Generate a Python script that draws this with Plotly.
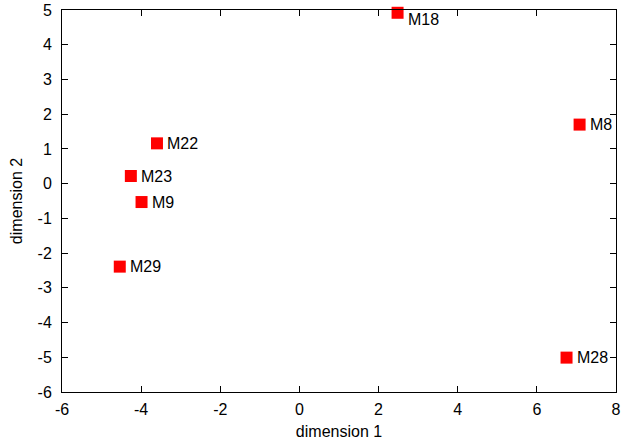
import plotly.graph_objects as go

labels = ["M18", "M8", "M22", "M23", "M9", "M29", "M28"]
dim1 = [2.48, 7.08, -3.60, -4.26, -3.99, -4.54, 6.75]
dim2 = [4.92, 1.70, 1.16, 0.22, -0.53, -2.39, -5.01]

x_ticks = [-6, -4, -2, 0, 2, 4, 6, 8]
x_ticktext = ["-6", "-4", "-2", "0", "2", "4", "6", "8"]
y_ticks = [-6, -5, -4, -3, -2, -1, 0, 1, 2, 3, 4, 5]
y_ticktext = ["-6", "-5", "-4", "-3", "-2", "-1", "0", "1", "2", "3", "4", "5"]

FONT = "Liberation Sans, Arial, sans-serif"
FS = 16

fig = go.Figure()
fig.add_trace(go.Scatter(
    x=dim1, y=dim2, mode="markers",
    marker=dict(symbol="square", size=12, color="#ff0000", line=dict(width=0)),
    cliponaxis=False, showlegend=False, hoverinfo="skip",
))

# point labels (the label at the top border sits a little lower, as in the reference)
label_yshift = {"M18": -7}
for lab, xv, yv in zip(labels, dim1, dim2):
    fig.add_annotation(x=xv, y=yv, text=lab, showarrow=False,
                       xanchor="left", yanchor="middle", xshift=8,
                       yshift=label_yshift.get(lab, 0),
                       font=dict(family=FONT, size=FS, color="#000000"))

axis_common = dict(
    showgrid=False, zeroline=False, showline=True, linecolor="#000000", linewidth=1,
    mirror="allticks", ticks="inside", ticklen=6, tickcolor="#000000", tickwidth=1,
    tickfont=dict(family=FONT, size=FS, color="#000000"),
)
fig.update_xaxes(range=[-6, 8], tickvals=x_ticks, ticktext=x_ticktext,
                 ticklabelstandoff=3, automargin="bottom",
                 title=dict(text="dimension 1", standoff=8,
                            font=dict(family=FONT, size=FS, color="#000000")),
                 **axis_common)
fig.update_yaxes(range=[-6, 5], tickvals=y_ticks, ticktext=y_ticktext,
                 ticklabelstandoff=6, automargin="left",
                 title=dict(text="dimension 2", standoff=10,
                            font=dict(family=FONT, size=FS, color="#000000")),
                 **axis_common)
fig.update_layout(
    width=623, height=445,
    margin=dict(l=62, r=7, t=10, b=53),
    plot_bgcolor="#ffffff", paper_bgcolor="#ffffff",
)
fig.write_html("out.html", config={"displayModeBar": False},
               post_script="document.body.style.margin='0';")
